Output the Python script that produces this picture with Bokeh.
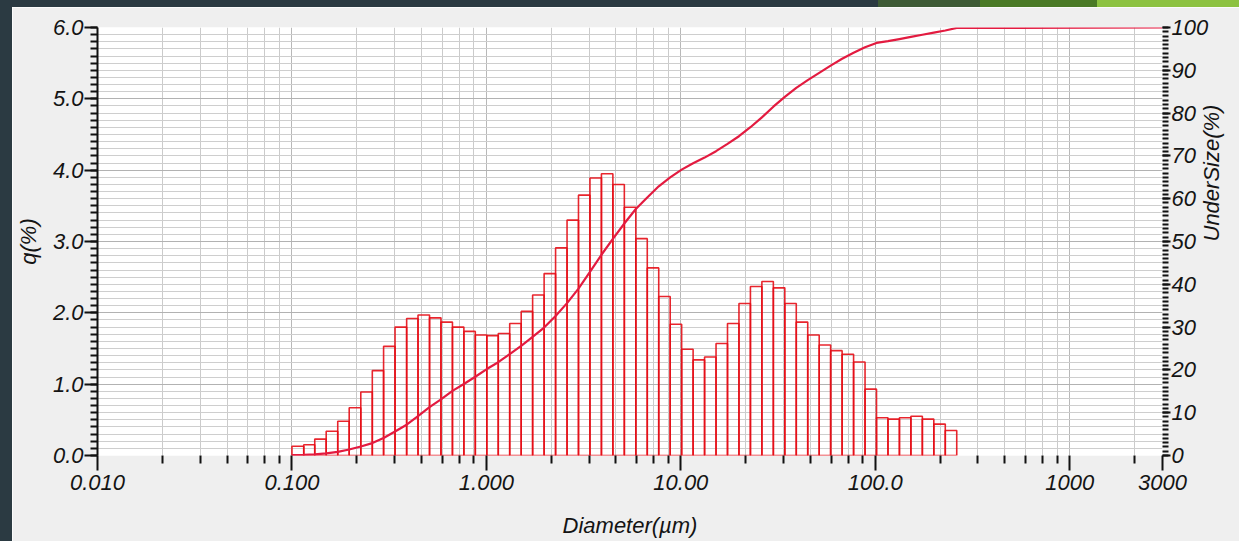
import math

from bokeh.embed import file_html
from bokeh.layouts import column, row
from bokeh.models import (Div, FixedTicker, LinearAxis, PrintfTickFormatter,
                          Range1d, SingleIntervalTicker)
from bokeh.plotting import figure
from bokeh.resources import INLINE

# Size channel boundaries (µm) of the analyser, from 0.1 to 262 µm
channel_edges = [
    0.100, 0.115, 0.131, 0.150, 0.172, 0.197, 0.226, 0.259, 0.296, 0.339,
    0.389, 0.445, 0.510, 0.584, 0.669, 0.766, 0.877, 1.005, 1.151, 1.318,
    1.510, 1.729, 1.981, 2.269, 2.599, 2.976, 3.409, 3.905, 4.472, 5.122,
    5.867, 6.720, 7.697, 8.816, 10.097, 11.565, 13.246, 15.172, 17.377, 19.904,
    22.797, 26.111, 29.907, 34.255, 39.234, 44.938, 51.471, 58.953, 67.523, 77.340,
    88.583, 101.460, 116.210, 133.103, 152.453, 174.616, 200.000, 229.075, 262.376,
]

# Frequency per channel, q (%)
q_percent = [
    0.13, 0.15, 0.23, 0.34, 0.48, 0.67, 0.89, 1.19, 1.53, 1.80,
    1.92, 1.97, 1.93, 1.87, 1.80, 1.74, 1.69, 1.68, 1.71, 1.85,
    2.02, 2.25, 2.55, 2.91, 3.30, 3.65, 3.89, 3.95, 3.80, 3.48,
    3.04, 2.63, 2.23, 1.84, 1.49, 1.34, 1.38, 1.57, 1.85, 2.13,
    2.37, 2.44, 2.35, 2.13, 1.87, 1.69, 1.55, 1.47, 1.42, 1.31,
    0.93, 0.53, 0.51, 0.53, 0.55, 0.51, 0.44, 0.35,
]

# Cumulative undersize (%) at each channel boundary, then up to 3000 µm
undersize_diam = channel_edges + [3000.0]
undersize_percent = [
    0.1, 0.15, 0.25, 0.5, 0.85, 1.4, 2.1, 2.9, 4.1, 5.6,
    7.2, 9.2, 11.3, 13.1, 15.1, 16.7, 18.4, 20.2, 21.8, 23.7,
    25.6, 27.7, 29.9, 32.6, 35.6, 39.0, 42.9, 46.9, 50.6, 54.2,
    57.6, 60.3, 62.9, 65.0, 66.8, 68.3, 69.6, 71.1, 72.8, 74.6,
    76.7, 79.0, 81.5, 83.8, 85.9, 87.7, 89.4, 91.1, 92.7, 94.1,
    95.4, 96.4, 96.8, 97.3, 97.8, 98.3, 98.8, 99.3, 99.9, 100.0,
]

x_major = [0.01, 0.1, 1, 10, 100, 1000, 3000]
x_labels = ["0.010", "0.100", "1.000", "10.00", "100.0", "1000", "3000"]

# Intermediate grid/tick positions inside each decade
decades = [0.01, 0.1, 1, 10, 100, 1000]
minor_steps = [2, 3, 4, 5, 6, 7]
x_minor = [d * k ** 1.107 for d in decades for k in minor_steps if d * k ** 1.107 < 3000]

FONT = "Liberation Sans"
TEXT = "#141414"
PANEL = "#efefef"
SLATE = "#2b3a42"

p = figure(
    width=1227, height=534,
    x_axis_type="log",
    x_range=Range1d(0.01, 3000), y_range=Range1d(0, 6),
    output_backend="svg", toolbar_location=None,
    min_border_left=85, min_border_right=73,
    min_border_top=20, min_border_bottom=86,
)
p.background_fill_color = "white"
p.border_fill_color = PANEL
p.outline_line_color = None
p.extra_y_ranges = {"cum": Range1d(0, 100)}

# bottom (diameter) axis
xt = FixedTicker(ticks=x_major, minor_ticks=x_minor)
xax = p.xaxis[0]
xax.ticker = xt
xax.major_label_overrides = {float(v): s for v, s in zip(x_major, x_labels)}
xax.axis_label = "Diameter(µm)"
xax.axis_line_color = None
xax.major_tick_out = 15
xax.major_tick_in = 0
xax.minor_tick_out = 8
xax.minor_tick_in = 0
xax.major_label_standoff = 4
xax.axis_label_standoff = 20

# left (q) axis
yax = p.yaxis[0]
yax.ticker = SingleIntervalTicker(interval=1, num_minor_ticks=10)
yax.formatter = PrintfTickFormatter(format="%.1f")
yax.axis_label = "q(%)"
yax.axis_line_color = "#111111"
yax.axis_line_width = 2
yax.major_tick_out = 13
yax.major_tick_in = 0
yax.minor_tick_out = 7
yax.minor_tick_in = 0
yax.major_label_standoff = 1
yax.axis_label_standoff = 9

# right (undersize) axis
rax = LinearAxis(
    y_range_name="cum",
    ticker=SingleIntervalTicker(interval=10, num_minor_ticks=10),
    axis_label="UnderSize(%)",
    axis_label_orientation=math.pi / 2,
)
rax.axis_line_color = None
rax.major_tick_out = 8
rax.major_tick_in = 0
rax.minor_tick_out = 6
rax.minor_tick_in = 0
rax.major_label_standoff = 1
rax.axis_label_standoff = 0
p.add_layout(rax, "right")

for ax in (xax, yax, rax):
    ax.major_label_text_font = FONT
    ax.major_label_text_font_style = "italic"
    ax.major_label_text_font_size = "22px"
    ax.major_label_text_color = TEXT
    ax.axis_label_text_font = FONT
    ax.axis_label_text_font_style = "italic"
    ax.axis_label_text_font_size = "22px"
    ax.axis_label_text_color = TEXT
    ax.major_tick_line_color = "#111111"
    ax.minor_tick_line_color = "#111111"
    ax.major_tick_line_width = 2
    ax.minor_tick_line_width = 2

# grids
p.xgrid.ticker = xt
p.xgrid.grid_line_color = "#b8b8b8"
p.xgrid.minor_grid_line_color = "#cbcbcb"
p.ygrid.grid_line_color = "#b2b2b2"
p.ygrid.minor_grid_line_color = "#cecece"

# frequency histogram as outlined bars
p.quad(
    left=channel_edges[:-1], right=channel_edges[1:],
    bottom=0, top=q_percent,
    fill_color=None, line_color="#e60d16", line_width=1.6, line_alpha=0.9,
)

# cumulative undersize curve
p.line(undersize_diam, undersize_percent, y_range_name="cum",
       line_color="#e31b40", line_width=2.2)

top_strip = Div(
    width=1239, height=7, margin=0,
    styles={"background": (
        "linear-gradient(to right, " + SLATE + " 0px, " + SLATE + " 878px, "
        "#3e5b36 878px, #3e5b36 980px, #4a7a26 980px, #4a7a26 1097px, "
        "#8cc240 1097px, #8cc240 1239px)")},
)
left_strip = Div(width=12, height=534, margin=0,
                 styles={"background-color": SLATE})

page = column(top_strip, row(left_strip, p, spacing=0), spacing=0)

with open("out.html", "w") as f:
    f.write(file_html(page, INLINE))
